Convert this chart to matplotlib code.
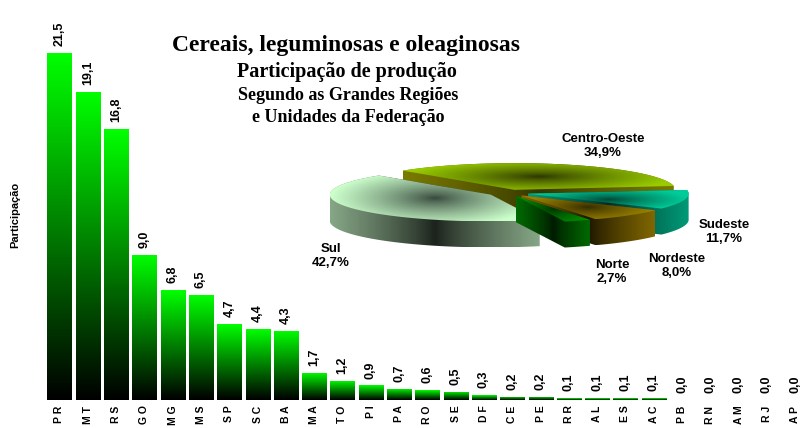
import numpy as np
import matplotlib
matplotlib.use("Agg")
import matplotlib.pyplot as plt
from matplotlib.patches import Polygon
from matplotlib.colors import to_rgb

# Data
states = ["PR", "MT", "RS", "GO", "MG", "MS", "SP", "SC", "BA", "MA", "TO", "PI", "PA",
          "RO", "SE", "DF", "CE", "PE", "RR", "AL", "ES", "AC", "PB", "RN", "AM", "RJ", "AP"]
shares = [21.5, 19.1, 16.8, 9.0, 6.8, 6.5, 4.7, 4.4, 4.3, 1.7, 1.2, 0.9, 0.7,
          0.6, 0.5, 0.3, 0.2, 0.2, 0.1, 0.1, 0.1, 0.1, 0.0, 0.0, 0.0, 0.0, 0.0]

regions = ["Sul", "Norte", "Nordeste", "Sudeste", "Centro-Oeste"]
region_pct = [42.7, 2.7, 8.0, 11.7, 34.9]

title_lines = ["Cereais, leguminosas e oleaginosas", "Participação de produção",
               "Segundo as Grandes Regiões", "e Unidades da Federação"]

plt.rcParams["font.family"] = ["Liberation Sans", "DejaVu Sans"]

W, H = 804, 428
fig = plt.figure(figsize=(W / 100, H / 100), dpi=100)
fig.patch.set_facecolor("white")

# ---- bar chart ----
step = 28.3
left_px = 59.5 - 0.5 * step
ax = fig.add_axes([left_px / W, 28 / H, 27 * step / W, 371 / H])
x = np.arange(len(states))
bars = ax.bar(x, shares, width=0.85, facecolor="none", edgecolor="none")

grad = np.zeros((256, 1, 3))
grad[:, 0, 1] = np.linspace(1.0, 0.0, 256)  # bright green top -> black bottom
for b in bars:
    h = b.get_height()
    if h <= 0:
        continue
    im = ax.imshow(grad, extent=(b.get_x(), b.get_x() + b.get_width(), 0, h),
                   origin="upper", aspect="auto", interpolation="bilinear", zorder=2)
    im.set_clip_path(b)

for xi, v in zip(x, shares):
    ax.annotate(f"{v:.1f}".replace(".", ","), (xi, v), xytext=(0, 5),
                textcoords="offset points", rotation=90, ha="center", va="bottom",
                fontsize=9, fontweight="bold", annotation_clip=False)

ax.set_xlim(-0.5, 26.5)
ax.set_ylim(0, 23)
ax.set_xticks(x)
ax.set_xticklabels([" ".join(s) for s in states], rotation=90, fontsize=7.5, fontweight="bold")
ax.tick_params(axis="x", length=0, pad=4)
ax.set_yticks([])
for sp in ax.spines.values():
    sp.set_visible(False)
ax.patch.set_alpha(0)

fig.text(15 / W, 1 - 215 / H, "Participação", rotation=90, ha="center", va="center",
         fontsize=8, fontweight="bold")

# ---- titles ----
tfont = ["Liberation Serif", "DejaVu Serif"]
fig.text(346 / W, 1 - 46 / H, title_lines[0], ha="center", va="center",
         fontsize=17, fontweight="bold", family=tfont)
fig.text(347 / W, 1 - 72 / H, title_lines[1], ha="center", va="center",
         fontsize=14.5, fontweight="bold", family=tfont)
fig.text(348 / W, 1 - 95 / H, title_lines[2], ha="center", va="center",
         fontsize=13, fontweight="bold", family=tfont)
fig.text(348 / W, 1 - 117 / H, title_lines[3], ha="center", va="center",
         fontsize=13, fontweight="bold", family=tfont)

# ---- 3D exploded pie ----
pax = fig.add_axes([0, 0, 1, 1], zorder=3)
pax.set_xlim(0, W)
pax.set_ylim(H, 0)
pax.axis("off")
pax.patch.set_alpha(0)

cx, cy, rx, ry, depth, expl = 508, 193, 161, 26.7, 26, 0.125
start = 134.0

colors = {
    "Sul": ("#ccffcc", "#34453a", "#86a686", "#1a201a"),
    "Norte": ("#008a00", "#003300", "#006a00", "#001a00"),
    "Nordeste": ("#9a8200", "#332a00", "#806600", "#1a1400"),
    "Sudeste": ("#00cc99", "#004433", "#009977", "#002a20"),
    "Centro-Oeste": ("#99cc00", "#2a3300", "#7a7a00", "#333300"),
}


def grad_fill(verts, light, dark, mode, z):
    x0, y0 = verts.min(axis=0)
    x1, y1 = verts.max(axis=0)
    u = np.linspace(-1, 1, 80)
    U, V = np.meshgrid(u, u)
    if mode == "radial":
        t = np.clip(np.sqrt(U ** 2 + (V * 0.8) ** 2), 0, 1) ** 0.8
    else:
        t = np.abs(U) ** 0.8
    l, d = np.array(to_rgb(light)), np.array(to_rgb(dark))
    img = d + (l - d) * t[..., None]
    im = pax.imshow(img, extent=(x0, x1, y1, y0), origin="upper", aspect="auto",
                    interpolation="bilinear", zorder=z)
    poly = Polygon(verts, closed=True, facecolor="none", edgecolor="none")
    pax.add_patch(poly)
    im.set_clip_path(poly)


def hull(pts):
    pts = sorted(map(tuple, pts))
    def half(p):
        out = []
        for q in p:
            while len(out) >= 2 and ((out[-1][0] - out[-2][0]) * (q[1] - out[-2][1]) -
                                     (out[-1][1] - out[-2][1]) * (q[0] - out[-2][0])) <= 0:
                out.pop()
            out.append(q)
        return out
    lo, up = half(pts), half(pts[::-1])
    return np.array(lo[:-1] + up[:-1])


slices = []
a = start
for name, pct in zip(regions, region_pct):
    span = pct / 100 * 360
    a0, a1 = a, a + span
    mid = np.radians((a0 + a1) / 2)
    ox, oy = expl * np.cos(mid), expl * np.sin(mid)
    th = np.radians(np.linspace(a0, a1, 60))
    px = np.concatenate([[ox], np.cos(th) + ox])
    py = np.concatenate([[oy], np.sin(th) + oy])
    top = np.column_stack([cx + rx * px, cy - ry * py])
    slices.append((np.sin(mid), name, top))
    a = a1

for _, name, top in sorted(slices, key=lambda s: -s[0]):
    tl, td, sl, sd = colors[name]
    bottom = top + np.array([0, depth])
    side = hull(np.vstack([top, bottom]))
    grad_fill(side, sl, sd, "horiz", 4)
    grad_fill(top, tl, td, "radial", 4)

labels_pos = {"Centro-Oeste": (603, 146), "Sul": (331, 256), "Sudeste": (724, 232),
              "Nordeste": (677, 266), "Norte": (612, 272)}
for name, pct in zip(regions, region_pct):
    lx, ly = labels_pos[name]
    pax.text(lx, ly, f"{name}\n{pct:.1f}%".replace(".", ","), ha="center", va="center",
             fontsize=9.5, fontweight="bold", linespacing=1.15, zorder=6)

pax.set_xlim(0, W)
pax.set_ylim(H, 0)

fig.savefig("out.png", dpi=100, facecolor="white")
